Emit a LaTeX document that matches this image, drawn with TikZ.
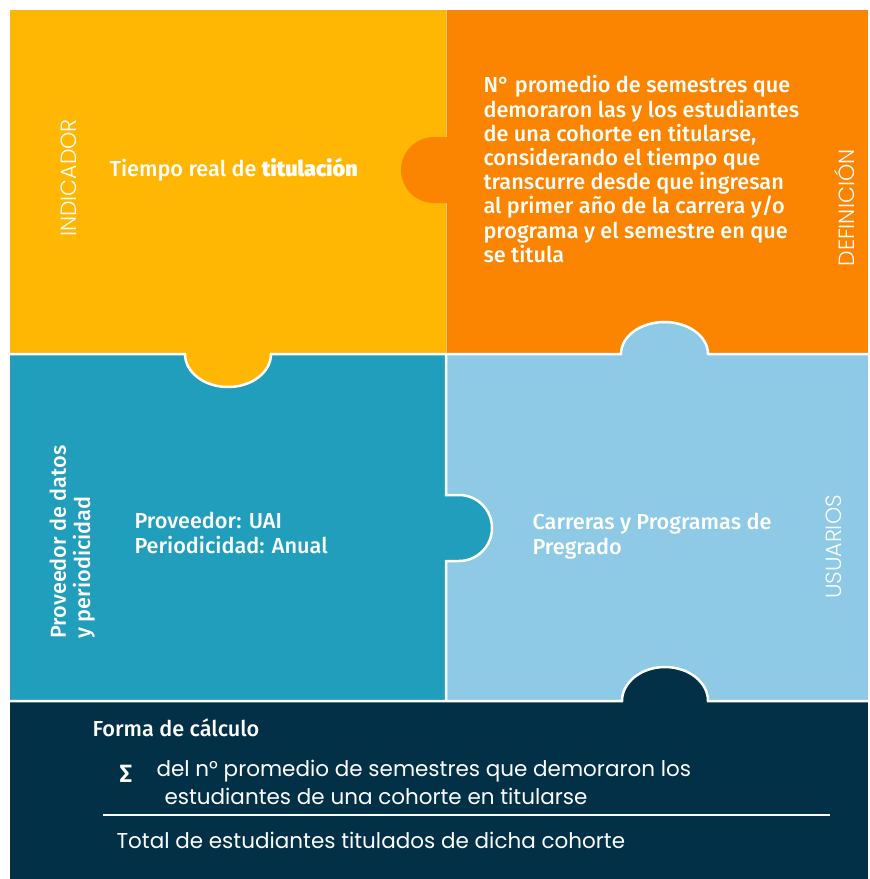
\documentclass[tikz,border=0pt]{standalone}
\usepackage{fontspec}
\setmainfont{Fira Sans}[BoldFont={Fira Sans Medium}]
\newfontfamily\heavyfont{Fira Sans SemiBold}
\newfontfamily\lightfont{Poppins Light}
\newfontfamily\roundfont{Poppins}
\usepackage{xcolor}
\definecolor{cyellow}{HTML}{FFB703}
\definecolor{corange}{HTML}{FB8500}
\definecolor{cteal}{HTML}{219EBC}
\definecolor{clight}{HTML}{8ECAE6}
\definecolor{cnavy}{HTML}{023047}
\tikzset{
    sidelabel/.style={text=white, rotate=90, font=\lightfont\fontsize{22}{26}\selectfont},
    bodytext/.style={text=white, align=left, font=\bfseries\fontsize{21.7}{24.2}\selectfont},
    calctext/.style={text=white, align=left, font=\roundfont\fontsize{21.5}{25}\selectfont},
    seam/.style={white, line width=2.5pt}
}

\begin{document}
\begin{tikzpicture}[x=1pt, y=1pt]
    \useasboundingbox (0,0) rectangle (870,-879);
    \fill[white] (0,0) rectangle (870,-879);

    \fill[cyellow] (10,-10)   rectangle (446,-354);
    \fill[corange] (446,-10)  rectangle (868,-354);
    \fill[cteal]   (10,-354)  rectangle (446,-701);
    \fill[clight]  (446,-354) rectangle (868,-701);
    \fill[cnavy]   (10,-701)  rectangle (868,-879);

    \fill[corange] (446,-137) -- (434,-137) arc (90:270:33pt) -- (446,-203) -- cycle;
    \fill[cyellow] (185,-354) arc (180:360:43pt and 33pt) -- cycle;
    \fill[clight]  (621,-354) arc (180:0:43.5pt and 32pt) -- cycle;
    \fill[cteal]   (446,-495) -- (459,-495) arc (90:-90:33pt) -- (446,-561) -- cycle;
    \fill[cnavy]   (622,-701) arc (180:0:43pt and 34pt) -- cycle;

    \draw[white, opacity=.5, line width=.6pt] (446,-10) -- (446,-137);
    \draw[white, opacity=.5, line width=.6pt] (446,-203) -- (446,-354);
    \draw[seam] (10,-354) -- (185,-354) arc (180:360:43pt and 33pt) -- (621,-354)
        arc (180:0:43.5pt and 32pt) -- (868,-354);
    \draw[seam] (446,-354) -- (446,-495) -- (459,-495) arc (90:-90:33pt) -- (446,-561) -- (446,-701);
    \draw[seam] (10,-701) -- (622,-701) arc (180:0:43pt and 34pt) -- (868,-701);

    \node[sidelabel] (indicador) at (69,-178) {INDICADOR};
    \node[bodytext, anchor=west] (nombre) at (106,-170) {Tiempo real de {\heavyfont titulación}};

    \node[bodytext, anchor=north west] (definicion) at (480,-72) {N° promedio de semestres que\\
        demoraron las y los estudiantes\\
        de una cohorte en titularse,\\
        considerando el tiempo que\\
        transcurre desde que ingresan\\
        al primer año de la carrera y/o\\
        programa y el semestre en que\\
        se titula};
    \node[sidelabel] (deflabel) at (845,-208) {DEFINICIÓN};

    \node[bodytext, rotate=90, anchor=north west] (provlabel) at (46,-642) {Proveedor de datos\\y periodicidad};
    \node[bodytext, anchor=north west] (proveedor) at (131,-509) {Proveedor: UAI\\Periodicidad: Anual};

    \node[bodytext, anchor=north west] (usuarios) at (529,-510) {Carreras y Programas de\\Pregrado};
    \node[sidelabel] (usulabel) at (834,-547) {USUARIOS};

    \node[bodytext, anchor=west] (forma) at (89,-728) {Forma de cálculo};
    \node[text=white, font=\heavyfont\fontsize{25}{25}\selectfont] (suma) at (126,-774) {Σ};
    \node[calctext, anchor=west] (numera) at (153,-771) {del n° promedio de semestres que demoraron los};
    \node[calctext, anchor=west] (numerb) at (161,-796) {estudiantes de una cohorte en titularse};
    \coordinate (rayaA) at (103,-815);
    \coordinate (rayaB) at (830,-815);
    \draw[white, line width=1.5pt] (rayaA) -- (rayaB);
    \node[calctext, anchor=west] (denom) at (113,-840) {Total de estudiantes titulados de dicha cohorte};
\end{tikzpicture}
\end{document}
